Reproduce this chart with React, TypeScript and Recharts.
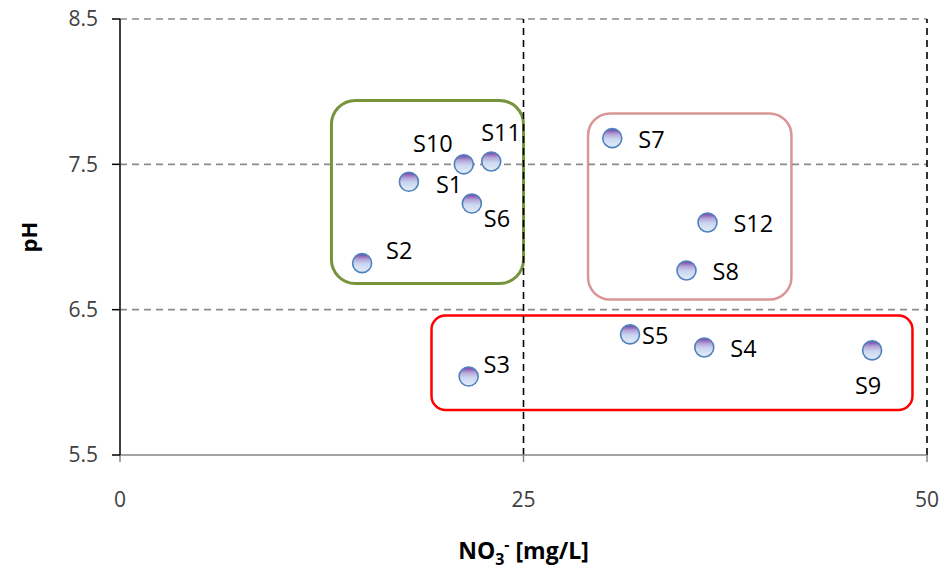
import React from 'react';
import {
  ScatterChart,
  Scatter,
  XAxis,
  YAxis,
  ReferenceLine,
  ReferenceArea,
} from 'recharts';

// ---- Data ----
const sampleNames = ['S1', 'S2', 'S3', 'S4', 'S5', 'S6', 'S7', 'S8', 'S9', 'S10', 'S11', 'S12'];
const nitrate = [17.9, 15.0, 21.6, 36.2, 31.6, 21.8, 30.5, 35.1, 46.6, 21.3, 23.0, 36.4];
const ph = [7.38, 6.82, 6.04, 6.24, 6.33, 7.23, 7.68, 6.77, 6.22, 7.5, 7.52, 7.1];

const xTicks = [0, 25, 50];
const yTicks = [5.5, 6.5, 7.5, 8.5];

// group boxes: [x1, x2, y1, y2]
const greenGroup = [13.1, 25.0, 6.68, 7.94];
const pinkGroup = [29.0, 41.6, 6.57, 7.85];
const redGroup = [19.3, 49.1, 5.81, 6.46];

const data = sampleNames.map((name, i) => ({ name, x: nitrate[i], y: ph[i] }));

// ---- Styles ----
const FONT = '"Open Sans", "Noto Sans", sans-serif';
const labelStyle: Record<string, [number, number, 'start' | 'middle' | 'end']> = {
  S1: [27, 2, 'start'],
  S2: [24, -13, 'start'],
  S3: [15, -13, 'start'],
  S4: [26, 1, 'start'],
  S5: [12, 1, 'start'],
  S6: [12, 14, 'start'],
  S7: [26, 1, 'start'],
  S8: [26, 1, 'start'],
  S9: [-4, 35, 'middle'],
  S10: [-11, -21, 'end'],
  S11: [-10, -29, 'start'],
  S12: [26, 1, 'start'],
};

const Marker = (props: any) => {
  const { cx, cy, payload } = props;
  const ls = labelStyle[payload.name] || [20, 0, 'start'];
  return (
    <g>
      <circle cx={cx} cy={cy} r={9.5} fill="url(#sphereGrad)" stroke="#4F81BD" strokeWidth={1.6} />
      <text
        x={cx + ls[0]}
        y={cy + ls[1]}
        textAnchor={ls[2]}
        dominantBaseline="central"
        fontFamily={FONT}
        fontSize={23.5}
        fill="#000"
      >
        {payload.name}
      </text>
    </g>
  );
};

const roundedBox = (color: string, rx: number, sw: number) => (props: any) => {
  const { x, y, width, height } = props;
  return (
    <rect x={x} y={y} width={width} height={height} rx={rx} ry={rx} fill="none" stroke={color} strokeWidth={sw} />
  );
};

const XLabel = (props: any) => {
  const vb = props.viewBox || {};
  const cx = vb.x + vb.width / 2;
  return (
    <text x={cx} y={vb.y + 104} textAnchor="middle" fontFamily={FONT} fontWeight="bold" fontSize={23} fill="#000">
      NO
      <tspan dy={6} fontSize={16}>3</tspan>
      <tspan dy={-15} fontSize={16}>-</tspan>
      <tspan dy={9} fontSize={23}> [mg/L]</tspan>
    </text>
  );
};

const YLabel = (props: any) => {
  const vb = props.viewBox || {};
  const cy = vb.y + vb.height / 2;
  const x = 28;
  return (
    <text
      x={x}
      y={cy}
      transform={`rotate(-90, ${x}, ${cy})`}
      textAnchor="middle"
      dominantBaseline="central"
      fontFamily={FONT}
      fontWeight="bold"
      fontSize={22}
      fill="#000"
    >
      pH
    </text>
  );
};

export default function App() {
  return (
    <div style={{ position: 'absolute', left: 0, top: 0, width: 945, height: 575, background: '#fff' }}>
      <ScatterChart width={945} height={575} margin={{ top: 19, right: 18, left: 0, bottom: 0 }}>
        <defs>
          <linearGradient id="sphereGrad" x1="0" y1="0" x2="0" y2="1">
            <stop offset="0" stopColor="#7236A0" />
            <stop offset="0.3" stopColor="#B5A5D8" />
            <stop offset="0.55" stopColor="#CBD7F0" />
            <stop offset="1" stopColor="#E4EDFA" />
          </linearGradient>
        </defs>
        <XAxis
          type="number"
          dataKey="x"
          domain={[0, 50]}
          ticks={xTicks}
          height={120}
          axisLine={{ stroke: '#868686', strokeWidth: 1.5 }}
          tickLine={{ stroke: '#868686', strokeWidth: 1.5 }}
          tickSize={7}
          tickMargin={30}
          tick={{ fill: '#404040', fontSize: 21, fontFamily: FONT }}
          label={XLabel}
        />
        <YAxis
          type="number"
          dataKey="y"
          domain={[5.5, 8.5]}
          ticks={yTicks}
          width={120}
          axisLine={{ stroke: '#000', strokeWidth: 1.5 }}
          tickLine={{ stroke: '#000', strokeWidth: 1.5 }}
          tickSize={8}
          tickMargin={14}
          tickFormatter={(v: number) => v.toFixed(1)}
          tick={{ fill: '#404040', fontSize: 21, fontFamily: FONT }}
          label={YLabel}
        />
        <ReferenceLine y={6.5} stroke="#8C8C8C" strokeWidth={1.6} strokeDasharray="7 5" />
        <ReferenceLine y={7.5} stroke="#8C8C8C" strokeWidth={1.6} strokeDasharray="7 5" />
        <ReferenceLine y={8.5} stroke="#8C8C8C" strokeWidth={1.6} strokeDasharray="7 5" />
        <ReferenceLine x={25} stroke="#000" strokeWidth={1.6} strokeDasharray="7 5" />
        <ReferenceLine x={50} stroke="#000" strokeWidth={1.6} strokeDasharray="7 5" />
        <ReferenceArea
          x1={greenGroup[0]}
          x2={greenGroup[1]}
          y1={greenGroup[2]}
          y2={greenGroup[3]}
          shape={roundedBox('#77933C', 24, 3)}
        />
        <ReferenceArea
          x1={pinkGroup[0]}
          x2={pinkGroup[1]}
          y1={pinkGroup[2]}
          y2={pinkGroup[3]}
          shape={roundedBox('#D99694', 22, 2.5)}
        />
        <ReferenceArea
          x1={redGroup[0]}
          x2={redGroup[1]}
          y1={redGroup[2]}
          y2={redGroup[3]}
          shape={roundedBox('#FF0000', 14, 2.5)}
        />
        <Scatter data={data} shape={Marker} isAnimationActive={false} />
      </ScatterChart>
    </div>
  );
}
